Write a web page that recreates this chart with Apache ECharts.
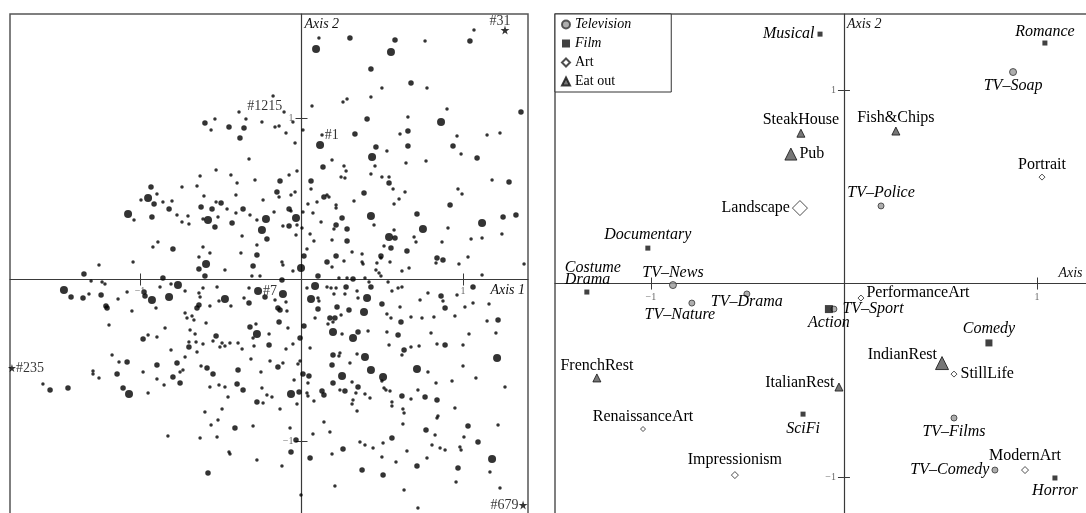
<!DOCTYPE html>
<html><head><meta charset="utf-8">
<script src="https://cdn.jsdelivr.net/npm/echarts@6/dist/echarts.min.js"></script>
<style>html,body{margin:0;padding:0;background:#fff}#c{width:1086px;height:513px}</style>
</head><body><div id="c"></div>
<script>
// ---------- Left panel: individuals (Axis 1, Axis 2 coordinates), grouped by dot size ----------
const largeDots = [
[-0.950,0.505],[-1.074,0.406],[-0.579,0.368],[-0.220,0.375],[-0.245,0.307],
[0.090,1.427],[0.554,1.409],[0.864,0.975],[0.115,0.833],[0.437,0.759],[-0.034,0.381],[0.430,0.393],[0.542,0.263],[0.752,0.313],[1.118,0.350],
[-1.471,-0.065],[-0.926,-0.127],[-0.820,-0.108],[-0.765,-0.034],[-0.591,0.096],[-0.474,-0.121],[-0.276,-0.337],[-1.068,-0.709],
[-0.003,0.071],[0.084,-0.040],[-0.115,-0.090],[0.059,-0.121],[0.406,-0.115],[0.387,-0.201],[1.211,-0.486],[0.319,-0.362],[0.195,-0.325],
[0.393,-0.480],[0.430,-0.560],[0.251,-0.598],[0.505,-0.604],[0.715,-0.554],[1.180,-1.111],[-0.065,-0.709]
];
const mediumDots = [
[-0.598,0.969],[-0.449,0.944],[-0.356,0.938],[-0.381,0.876],[-0.932,0.573],[-0.913,0.467],[-0.820,0.437],[-0.926,0.387],[-0.622,0.449],[-0.554,0.437],
[-0.498,0.474],[-0.536,0.325],[-0.430,0.350],[-0.362,0.437],[-0.214,0.251],[-0.276,0.152],[-0.796,0.189],
[0.300,1.495],[0.579,1.483],[1.043,1.477],[0.430,1.303],[0.678,1.217],[1.359,1.037],[0.406,0.994],[0.659,0.920],[0.331,0.901],[0.461,0.820],
[0.659,0.827],[0.938,0.827],[1.087,0.752],[0.133,0.697],[0.542,0.598],[0.059,0.610],[-0.133,0.610],[-0.152,0.542],[-0.077,0.437],[-0.077,0.331],
[0.139,0.511],[0.387,0.536],[0.251,0.381],[0.214,0.337],[0.015,0.146],[0.282,0.313],[0.282,0.238],[0.214,0.146],[0.579,0.257],[0.554,0.195],
[0.492,0.146],[0.715,0.406],[0.653,0.176],[0.920,0.461],[1.285,0.604],[1.248,0.387],[1.328,0.399],
[-1.347,0.034],[-1.427,-0.108],[-1.353,-0.115],[-1.241,-0.096],[-1.211,-0.164],[-1.204,-0.176],[-0.975,-0.077],[-0.969,-0.102],[-0.858,0.009],
[-0.635,0.065],[-0.598,0.022],[-0.635,-0.158],[-0.647,-0.176],[-0.325,-0.146],[-0.300,0.084],[-0.226,-0.108],[-0.981,-0.368],[-0.771,-0.517],
[-0.697,-0.418],[-0.529,-0.350],[-0.319,-0.294],[-0.201,-0.406],[-1.080,-0.511],[-1.142,-0.585],[-0.895,-0.529],[-0.796,-0.604],[-0.752,-0.641],
[-0.585,-0.548],[-0.548,-0.585],[-0.393,-0.560],[-1.557,-0.684],[-1.446,-0.672],[-1.105,-0.672],[-0.399,-0.647],[-0.362,-0.684],[-0.276,-0.759],
[-0.412,-0.920],[-0.579,-1.198],
[0.158,0.108],[0.839,0.133],[0.876,0.121],[-0.121,-0.003],[0.102,0.022],[0.319,0.003],[-0.146,-0.176],[-0.133,-0.189],[0.102,-0.183],[0.276,-0.046],
[0.430,-0.046],[0.220,-0.170],[0.294,-0.189],[0.176,-0.238],[0.207,-0.238],[0.498,-0.152],[0.864,-0.102],[0.889,-0.176],[0.616,-0.263],[1.062,-0.046],
[1.217,-0.251],[0.889,-0.406],[0.635,-0.437],[0.598,-0.344],[0.350,-0.325],[0.189,-0.529],[0.195,-0.641],[0.350,-0.666],[0.269,-0.690],[0.622,-0.721],
[0.765,-0.728],[0.839,-0.746],[0.771,-0.932],[1.031,-0.907],[1.093,-1.006],[0.969,-1.167],[0.715,-1.155],[0.505,-1.211],[0.560,-0.981],[0.375,-1.180],
[0.257,-1.050],[0.053,-1.105],[-0.034,-0.994],[-0.065,-1.068],[-0.015,-0.697],[0.127,-0.690],[0.139,-0.715],[0.009,-0.585],[-0.146,-0.542],[-0.009,-0.362],
[-0.139,-0.263],[0.015,-0.288],[0.046,-0.598],[0.195,-0.467]
];
const smallDots = [
[-0.387,1.037],[-0.536,0.994],[-0.560,0.926],[-0.344,0.994],[-0.245,0.975],[-0.325,0.746],[-0.529,0.678],[-0.628,0.641],[-0.437,0.647],[-0.399,0.598],
[-0.288,0.616],[-0.740,0.573],[-0.647,0.579],[-0.895,0.529],[-0.994,0.492],[-0.858,0.480],[-0.802,0.486],[-1.037,0.368],[-0.771,0.399],[-0.740,0.356],
[-0.703,0.393],[-0.697,0.344],[-0.604,0.517],[-0.529,0.480],[-0.461,0.437],[-0.610,0.375],[-0.517,0.387],[-0.406,0.412],[-0.406,0.523],[-0.319,0.399],
[-0.276,0.368],[-0.238,0.492],[-0.368,0.269],[-0.276,0.214],[-0.375,0.164],[-0.635,0.139],[-0.610,0.201],[-0.567,0.164],[-0.889,0.232],[-0.920,0.201],
[0.108,1.495],[0.765,1.477],[1.068,1.545],[0.498,1.186],[0.777,1.186],[0.430,1.130],[0.282,1.118],[0.257,1.099],[0.065,1.074],[-0.176,1.136],
[0.901,1.056],[0.659,1.006],[0.610,0.901],[0.963,0.889],[1.149,0.895],[1.229,0.907],[0.529,0.796],[0.988,0.777],[0.647,0.721],[0.771,0.734],
[0.455,0.703],[0.189,0.740],[0.263,0.703],[0.276,0.672],[0.245,0.635],[0.269,0.628],[0.430,0.653],[0.498,0.635],[0.542,0.635],[0.567,0.560],
[0.059,0.560],[-0.077,0.647],[-0.028,0.672],[-0.040,0.845],[0.009,0.926],[-0.096,0.907],[-0.164,0.944],[-0.139,0.950],[-0.053,0.975],[-0.139,0.511],
[-0.065,0.523],[-0.040,0.542],[-0.065,0.424],[-0.170,0.418],[-0.115,0.331],[-0.028,0.337],[-0.034,0.276],[0.009,0.418],[0.003,0.319],[0.040,0.467],
[0.096,0.480],[0.158,0.523],[0.170,0.511],[0.214,0.461],[0.214,0.443],[0.325,0.486],[0.071,0.412],[0.201,0.313],[0.121,0.356],[0.053,0.282],
[0.077,0.238],[0.034,0.189],[0.189,0.245],[0.313,0.170],[0.375,0.158],[0.449,0.337],[0.511,0.207],[0.573,0.307],[0.604,0.498],[0.573,0.467],
[0.641,0.542],[0.697,0.263],[0.709,0.232],[0.907,0.319],[0.870,0.232],[0.969,0.560],[0.994,0.529],[1.031,0.139],[1.050,0.251],[1.118,0.257],
[1.180,0.616],[1.241,0.282],
[-1.043,0.108],[-1.254,0.090],[-1.303,-0.009],[-1.235,-0.015],[-1.217,-0.028],[-1.316,-0.090],[-1.136,-0.121],[-1.080,-0.077],[-1.050,-0.195],[-0.901,-0.176],
[-0.876,-0.046],[-0.808,-0.028],[-0.721,-0.071],[-0.474,0.059],[-0.523,-0.046],[-0.610,-0.053],[-0.635,-0.084],[-0.628,-0.108],[-0.567,-0.164],[-0.511,-0.133],
[-0.437,-0.164],[-0.356,-0.115],[-0.325,-0.053],[-1.192,-0.282],[-0.845,-0.300],[-0.950,-0.344],[-0.895,-0.356],[-0.808,-0.437],[-0.721,-0.480],[-0.721,-0.207],
[-0.709,-0.238],[-0.678,-0.226],[-0.666,-0.251],[-0.690,-0.313],[-0.659,-0.337],[-0.697,-0.387],[-0.653,-0.387],[-0.647,-0.449],[-0.610,-0.399],[-0.591,-0.269],
[-0.548,-0.381],[-0.492,-0.393],[-0.505,-0.418],[-0.474,-0.412],[-0.443,-0.393],[-0.393,-0.393],[-0.368,-0.430],[-0.300,-0.362],[-0.282,-0.276],[-0.294,-0.412],
[-0.313,-0.492],[-1.173,-0.467],[-1.130,-0.511],[-0.981,-0.573],[-0.895,-0.616],[-0.752,-0.573],[-0.734,-0.560],[-0.851,-0.653],[-0.950,-0.703],[-0.622,-0.536],
[-0.251,-0.573],[-1.291,-0.567],[-1.291,-0.585],[-1.254,-0.610],[-1.601,-0.647],[-0.567,-0.666],[-0.511,-0.653],[-0.474,-0.666],[-0.455,-0.728],[-0.245,-0.672],
[-0.238,-0.765],[-0.214,-0.715],[-0.598,-0.820],[-0.492,-0.802],[-0.560,-0.901],[-0.517,-0.870],[-0.300,-0.907],[-0.827,-0.969],[-0.628,-0.981],[-0.523,-0.975],
[-0.449,-1.068],[-0.443,-1.080],[-0.276,-1.118],[-0.257,0.022],[-0.307,0.022],[-0.164,-0.127],[-0.053,0.053],[0.034,-0.053],
[-0.121,0.108],[-0.115,0.090],[0.189,0.077],[0.263,0.115],[0.375,0.108],[0.381,0.096],[0.467,0.102],[0.492,0.133],[0.461,0.059],[0.480,0.040],
[0.492,0.022],[0.548,0.108],[0.622,0.053],[0.666,0.071],[0.833,0.102],[0.975,0.096],[1.118,0.028],[1.378,0.096],[0.232,0.009],[0.282,0.009],
[0.393,0.009],[0.418,-0.015],[0.536,-0.015],[-0.096,-0.139],[-0.090,-0.195],[0.102,-0.115],[0.108,-0.133],[0.158,-0.046],[0.183,-0.053],[0.201,-0.090],
[0.214,-0.053],[0.269,-0.090],[0.344,-0.071],[0.350,-0.115],[0.245,-0.220],[0.195,-0.263],[0.164,-0.276],[0.560,-0.071],[0.598,-0.053],[0.622,-0.046],
[0.734,-0.127],[0.783,-0.084],[0.876,-0.133],[0.963,-0.096],[0.610,-0.170],[0.529,-0.214],[0.554,-0.238],[0.678,-0.232],[0.746,-0.238],[0.820,-0.232],
[0.950,-0.226],[1.012,-0.170],[1.062,-0.146],[1.161,-0.152],[1.149,-0.257],[1.204,-0.331],[1.260,-0.666],[1.080,-0.610],[1.000,-0.536],[1.037,-0.337],
[1.000,-0.406],[0.839,-0.399],[0.802,-0.331],[0.728,-0.412],[0.678,-0.418],[0.622,-0.467],[0.542,-0.406],[0.529,-0.325],[0.412,-0.319],[0.251,-0.337],
[0.238,-0.455],[0.232,-0.474],[0.344,-0.461],[0.300,-0.517],[0.313,-0.635],[0.238,-0.684],[0.337,-0.703],[0.393,-0.709],[0.319,-0.746],[0.313,-0.771],
[0.344,-0.814],[0.424,-0.734],[0.498,-0.628],[0.511,-0.672],[0.523,-0.684],[0.548,-0.690],[0.560,-0.759],[0.560,-0.783],[0.678,-0.740],[0.628,-0.802],
[0.635,-0.827],[0.783,-0.573],[0.721,-0.684],[0.833,-0.641],[0.932,-0.628],[0.950,-0.796],[0.845,-0.845],[0.839,-0.858],[0.628,-0.895],[0.827,-0.963],
[0.808,-1.025],[0.858,-1.043],[0.889,-1.056],[1.006,-0.975],[0.981,-1.037],[0.988,-1.056],[1.217,-0.901],[1.167,-1.192],[1.229,-1.291],[0.957,-1.254],
[0.777,-1.105],[0.653,-1.062],[0.585,-1.130],[0.635,-1.303],[0.721,-1.415],[0.498,-1.099],[0.505,-1.012],[0.443,-1.043],[0.393,-1.025],[0.362,-1.006],
[0.189,-1.080],[0.207,-1.279],[0.071,-0.957],[0.139,-0.882],[0.176,-0.944],[-0.003,-1.334],[-0.071,-0.920],[-0.121,-1.155],[0.034,-0.703],[0.077,-0.752],
[-0.028,-0.771],[-0.133,-0.802],[-0.183,-0.728],[-0.022,-0.523],[-0.009,-0.505],[-0.046,-0.622],[-0.115,-0.517],[-0.195,-0.505],[-0.053,-0.399],[-0.096,-0.430],
[-0.201,-0.337],[-0.084,-0.300],[0.053,-0.424],[0.084,-0.238],[0.040,-0.641],[0.040,-0.721]
];
// labelled individuals
const idNames = ['#31', '#1215', '#1', '#7', '#235', '#679'];
const idX = [1.260, -0.108, 0.127, -0.269, -1.793, 1.372];
const idY = [1.545, 1.037, 0.895, -0.071, -0.548, -1.396];

// ---------- Right panel: category points ----------
const tvNames = ['TV–Soap', 'TV–Police', 'TV–News', 'TV–Nature', 'TV–Drama', 'TV–Sport', 'TV–Films', 'TV–Comedy'];
const tvX = [0.876, 0.192, -0.886, -0.788, -0.503, -0.052, 0.570, 0.782];
const tvY = [1.093, 0.401, -0.008, -0.101, -0.054, -0.132, -0.695, -0.964];
const filmNames = ['Musical', 'Romance', 'Documentary', 'Costume\nDrama', 'Action', 'Comedy', 'SciFi', 'Horror'];
const filmX = [-0.124, 1.041, -1.016, -1.332, -0.078, 0.751, -0.212, 1.093];
const filmY = [1.289, 1.243, 0.183, -0.044, -0.132, -0.307, -0.675, -1.005];
const artNames = ['Landscape', 'Portrait', 'PerformanceArt', 'StillLife', 'ModernArt', 'RenaissanceArt', 'Impressionism'];
const artX = [-0.228, 1.026, 0.088, 0.570, 0.938, -1.041, -0.565];
const artY = [0.390, 0.550, -0.075, -0.468, -0.964, -0.752, -0.990];
const eatNames = ['SteakHouse', 'Pub', 'Fish&Chips', 'FrenchRest', 'ItalianRest', 'IndianRest'];
const eatX = [-0.223, -0.275, 0.269, -1.280, -0.026, 0.508];
const eatY = [0.777, 0.669, 0.788, -0.488, -0.535, -0.411];

const tickValues = [-1, 1];
const tickText = {'-1': '−1', '1': '1'};

// ---------- styling (not data) ----------
const FONT = 'Liberation Serif';
const STAR = 'path://M50,0 L61,35 L98,35 L68,57 L79,91 L50,70 L21,91 L32,57 L2,35 L39,35 Z';
const catStyle = {
  'TV–Soap': {size: 7, pos: 'bottom', d: 2},
  'TV–Police': {size: 6, pos: 'top', d: 2},
  'TV–News': {size: 7, pos: 'top', d: 0},
  'TV–Nature': {size: 6, pos: 'bottom', d: 0, off: [-12, 0]},
  'TV–Drama': {size: 6, pos: 'bottom', d: -4},
  'TV–Sport': {size: 6, pos: 'right', d: 5},
  'TV–Films': {size: 6, pos: 'bottom', d: 2},
  'TV–Comedy': {size: 6, pos: 'left', d: 2},
  'Musical': {size: 5, pos: 'left', d: 3},
  'Romance': {size: 5, pos: 'top', d: 1},
  'Documentary': {size: 5, pos: 'top', d: 3},
  'Costume\nDrama': {size: 5, pos: 'top', d: 4, off: [-22, 0], lh: 12, align: 'left'},
  'Action': {size: 8, pos: 'bottom', d: 2},
  'Comedy': {size: 7, pos: 'top', d: 3},
  'SciFi': {size: 5, pos: 'bottom', d: 4},
  'Horror': {size: 5, pos: 'bottom', d: 2},
  'Landscape': {size: 15, pos: 'left', d: 2},
  'Portrait': {size: 6, pos: 'top', d: 1},
  'PerformanceArt': {size: 6, pos: 'right', d: 2, off: [0, -5]},
  'StillLife': {size: 6, pos: 'right', d: 3},
  'ModernArt': {size: 7, pos: 'top', d: 2},
  'RenaissanceArt': {size: 5, pos: 'top', d: 1},
  'Impressionism': {size: 7, pos: 'top', d: 3},
  'SteakHouse': {size: 8, pos: 'top', d: 1},
  'Pub': {size: 12, pos: 'right', d: 2},
  'Fish&Chips': {size: 8, pos: 'top', d: 1},
  'FrenchRest': {size: 8, pos: 'top', d: 0},
  'ItalianRest': {size: 8, pos: 'left', d: 0, off: [0, -4]},
  'IndianRest': {size: 13, pos: 'left', d: -2, off: [0, -8]}
};
const idStyle = {
  '#31': {sym: STAR, size: 9, pos: 'top', d: -3, off: [-5, 0]},
  '#1215': {sym: 'circle', size: 3.5, pos: 'left', d: 0, off: [0, -6]},
  '#1': {sym: 'circle', size: 3.5, pos: 'right', d: 1},
  '#7': {sym: 'circle', size: 8, pos: 'right', d: 1},
  '#235': {sym: STAR, size: 8, pos: 'right', d: 0},
  '#679': {sym: STAR, size: 9, pos: 'left', d: 0}
};

function axisPair(dim, gridIndex, min, max, idxBase, nameCfg) {
  const first = {
    type: 'value', gridIndex, min, max,
    position: dim === 'x' ? 'bottom' : 'left',
    axisLine: {show: true, onZero: true, onZeroAxisIndex: idxBase, lineStyle: {color: '#3a3a3a', width: 1.2}},
    axisTick: {show: true, length: 6, customValues: tickValues, lineStyle: {color: '#3a3a3a', width: 1}},
    axisLabel: {show: false},
    splitLine: {show: false},
    name: nameCfg.text, nameLocation: 'end', nameGap: nameCfg.gap, nameMoveOverlap: false,
    nameTextStyle: Object.assign({fontFamily: FONT, fontSize: 14, fontStyle: 'italic', color: '#111'}, nameCfg.style)
  };
  const second = {
    type: 'value', gridIndex, min, max,
    position: dim === 'x' ? 'top' : 'right',
    axisLine: {show: false, onZero: true, onZeroAxisIndex: idxBase + 1},
    axisTick: {show: true, length: 6, customValues: tickValues, lineStyle: {color: '#3a3a3a', width: 1}},
    axisLabel: {show: false},
    splitLine: {show: false}
  };
  return [first, second];
}

const L = {xMin: -1.805, xMax: 1.4025, yMin: -1.483, yMax: 1.644};
const R = {xMin: -1.497, xMax: 1.285, yMin: -1.217, yMax: 1.393};

const xAxes = [
  ...axisPair('x', 0, L.xMin, L.xMax, 0, {text: 'Axis 1', gap: -3, style: {align: 'right', verticalAlign: 'top', padding: [4, 0, 0, 0]}}),
  ...axisPair('x', 1, R.xMin, R.xMax, 2, {text: 'Axis 1', gap: 1, style: {align: 'right', verticalAlign: 'bottom', padding: [0, 0, 3, 0]}})
];
const yAxes = [
  ...axisPair('y', 0, L.yMin, L.yMax, 0, {text: 'Axis 2', gap: -3, style: {align: 'left', verticalAlign: 'top', padding: [0, 0, 0, 3]}}),
  ...axisPair('y', 1, R.yMin, R.yMax, 2, {text: 'Axis 2', gap: -3, style: {align: 'left', verticalAlign: 'top', padding: [0, 0, 0, 3]}})
];

// tick labels drawn at the tick values through the axes' scales
function tickLabelSeries(axisIdx, xDist, yDist) {
  const lab = {show: true, formatter: p => tickText[String(p.data.t)], fontFamily: FONT, fontSize: 10, color: '#444', textBorderWidth: 0};
  return [
    {type: 'scatter', xAxisIndex: axisIdx, yAxisIndex: axisIdx, symbolSize: 0, silent: true, z: 5,
      data: tickValues.map(v => ({value: [v, 0], t: v})), label: Object.assign({position: 'bottom', distance: xDist}, lab)},
    {type: 'scatter', xAxisIndex: axisIdx, yAxisIndex: axisIdx, symbolSize: 0, silent: true, z: 5,
      data: tickValues.map(v => ({value: [0, v], t: v})), label: Object.assign({position: 'left', distance: yDist}, lab)}
  ];
}

function dotSeries(name, pts, size) {
  return {type: 'scatter', name, xAxisIndex: 0, yAxisIndex: 0, symbol: 'circle', symbolSize: size,
    itemStyle: {color: '#000'}, data: pts, silent: true, z: 2};
}

function catSeries(name, names, xs, ys, symbol, itemStyle, italic) {
  return {
    type: 'scatter', name, xAxisIndex: 2, yAxisIndex: 2, symbol, itemStyle, silent: true, z: 3,
    data: names.map((n, i) => {
      const st = catStyle[n];
      const lab = {position: st.pos, distance: st.d, offset: st.off || [0, 0]};
      if (st.lh) lab.lineHeight = st.lh;
      if (st.align) lab.align = st.align;
      return {name: n, value: [xs[i], ys[i]], symbolSize: st.size, label: lab};
    }),
    label: {show: true, formatter: '{b}', fontFamily: FONT, fontSize: 16,
      fontStyle: italic ? 'italic' : 'normal', color: '#000', opacity: 1, textBorderWidth: 0}
  };
}

const option = {
  animation: false,
  backgroundColor: '#ffffff',
  grid: [
    {left: 10, top: 14, width: 518, height: 505, show: true, borderColor: '#555', borderWidth: 1.5, backgroundColor: 'transparent', containLabel: false, outerBoundsMode: 'none'},
    {left: 555, top: 14, width: 537, height: 505, show: true, borderColor: '#555', borderWidth: 1.5, backgroundColor: 'transparent', containLabel: false, outerBoundsMode: 'none'}
  ],
  xAxis: xAxes,
  yAxis: yAxes,
  legend: {
    show: true, left: 555, top: 14, orient: 'vertical', selectedMode: false,
    padding: [3, 40, 3, 6], itemGap: 4, itemWidth: 8, itemHeight: 8,
    borderColor: '#333', borderWidth: 1, backgroundColor: '#fff',
    textStyle: {fontFamily: FONT, fontSize: 14, color: '#000', lineHeight: 15},
    data: [
      {name: 'Television', textStyle: {fontStyle: 'italic'}},
      {name: 'Film', textStyle: {fontStyle: 'italic'}},
      {name: 'Art'},
      {name: 'Eat out'}
    ]
  },
  series: [
    dotSeries('small', smallDots, 3.5),
    dotSeries('medium', mediumDots, 5.5),
    dotSeries('large', largeDots, 8),
    {
      type: 'scatter', name: 'ids', xAxisIndex: 0, yAxisIndex: 0, silent: true, z: 4,
      itemStyle: {color: '#000'},
      data: idNames.map((n, i) => {
        const st = idStyle[n];
        return {name: n, value: [idX[i], idY[i]], symbol: st.sym, symbolSize: st.size,
          label: {position: st.pos, distance: st.d, offset: st.off || [0, 0]}};
      }),
      label: {show: true, formatter: '{b}', fontFamily: FONT, fontSize: 14, color: '#000', textBorderWidth: 0}
    },
    ...tickLabelSeries(0, 7, 8),
    ...tickLabelSeries(2, 9, 8),
    catSeries('Television', tvNames, tvX, tvY, 'circle', {color: '#9a9a9a', borderColor: '#333', borderWidth: 1}, true),
    catSeries('Film', filmNames, filmX, filmY, 'rect', {color: '#111'}, true),
    catSeries('Art', artNames, artX, artY, 'diamond', {color: '#fff', borderColor: '#222', borderWidth: 1}, false),
    catSeries('Eat out', eatNames, eatX, eatY, 'triangle', {color: '#555', borderColor: '#111', borderWidth: 1}, false)
  ]
};

const chart = echarts.init(document.getElementById('c'), null, {renderer: 'canvas'});
chart.setOption(option);
</script>
</body></html>
